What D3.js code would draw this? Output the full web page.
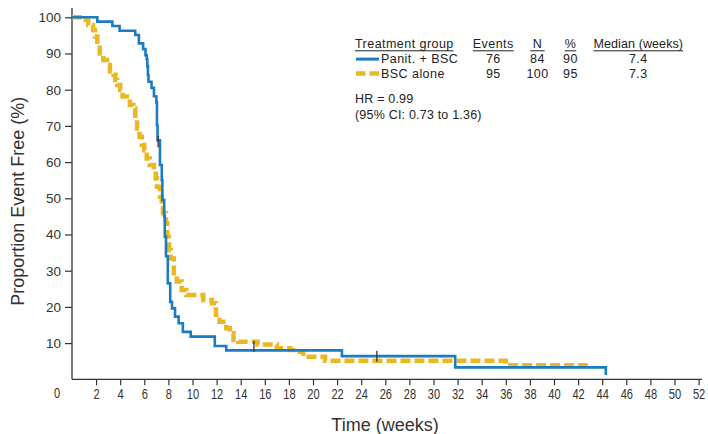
<!DOCTYPE html>
<html>
<head>
<meta charset="utf-8">
<script src="https://cdn.jsdelivr.net/npm/d3@7"></script>
<style>
  html, body { margin: 0; padding: 0; background: #fff; }
  svg { display: block; font-family: "Liberation Sans", Arial, Helvetica, sans-serif; }
</style>
</head>
<body>
<svg id="chart" width="708" height="434"></svg>
<script>
// ---- Data ----
const panitTimes  = [0, 2.1, 3.35, 3.95, 5.25, 5.55, 5.9, 6.1, 6.2, 6.25, 6.3, 6.35, 6.6, 6.8, 7.0, 7.05, 7.1, 7.3, 7.45, 7.5, 7.65, 7.7, 7.8, 7.95, 8.15, 8.3, 8.55, 8.85, 9.2, 9.85, 11.85, 12.8, 22.4, 31.8, 44.3];
const panitValues = [100, 98.8, 97.6, 96.3, 95.1, 92.8, 91.2, 89.5, 88.5, 86.5, 84, 82.2, 80.5, 78.2, 76.5, 70.2, 66, 59.2, 55, 49.5, 45, 39.4, 34, 26.5, 21.4, 19.6, 17.3, 15.5, 13.1, 11.8, 9.2, 8.0, 6.4, 3.3, 1.2];

const bscTimes  = [0, 0.95, 1.35, 1.75, 1.9, 2.1, 2.3, 2.6, 2.9, 3.15, 3.45, 3.6, 3.75, 4.0, 4.2, 4.55, 4.8, 5.1, 5.25, 5.4, 5.6, 5.8, 6.0, 6.2, 6.45, 6.8, 6.95, 7.05, 7.3, 7.45, 7.55, 7.8, 7.9, 8.05, 8.2, 8.45, 8.7, 9.1, 9.5, 10.9, 11.6, 11.95, 12.25, 12.8, 13.1, 13.4, 13.8, 15.4, 17.0, 18.1, 18.6, 19.2, 21.0, 36.0, 42.8];
const bscValues = [100, 99.3, 97.9, 96.5, 94.7, 92.4, 90, 88.2, 86.8, 85, 84.1, 82.7, 81.3, 79.9, 78.1, 76.7, 75.8, 74.9, 71.6, 69.3, 67, 64.7, 63.3, 61, 59.2, 57.8, 55.5, 53.2, 50.4, 48, 45.9, 43.1, 39.4, 35.7, 33.4, 29.3, 27, 24.7, 23.3, 21.9, 21.0, 17.8, 15.9, 14.1, 12.7, 10.9, 10.4, 9.6, 8.6, 8.1, 7.6, 6.2, 5.1, 3.9, 3.9];

const censorTimes  = [7.15, 15.1, 25.3];
const censorValues = [65.6, 9.1, 6.4];

const xTickValues = [2, 4, 6, 8, 10, 12, 14, 16, 18, 20, 22, 24, 26, 28, 30, 32, 34, 36, 38, 40, 42, 44, 46, 48, 50, 52];
const yTickValues = [10, 20, 30, 40, 50, 60, 70, 80, 90, 100];

const legendHeaders = ["Treatment group", "Events", "N", "%", "Median (weeks)"];
const legendGroups  = ["Panit. + BSC", "BSC alone"];
const legendEvents  = [76, 95];
const legendN       = [84, 100];
const legendPct     = [90, 95];
const legendMedian  = ["7.4", "7.3"];
const hrLines       = ["HR = 0.99", "(95% CI: 0.73 to 1.36)"];

// ---- Layout ----
const BLUE = "#1b7cc3";
const YELLOW = "#e9b824";
const AXIS = "#333";

const svg = d3.select("#chart");
const x = d3.scaleLinear().domain([0, 52]).range([72, 698.6]);
const y = d3.scaleLinear().domain([0, 100]).range([379.3, 17.3]);

// axes
const xAxis = d3.axisBottom(x).tickValues(xTickValues).tickSize(6).tickSizeOuter(0).tickPadding(3);
const gx = svg.append("g").attr("transform", `translate(0,${y(0)})`).call(xAxis);
gx.select(".domain").remove();
gx.append("line").attr("x1", x(0)).attr("x2", 702).attr("y1", 0).attr("y2", 0)
  .attr("stroke", AXIS).attr("stroke-width", 1.3);
gx.selectAll(".tick line").attr("stroke", AXIS).attr("stroke-width", 1.2);
gx.selectAll(".tick text").attr("fill", AXIS).attr("font-size", 15)
  .attr("transform", "scale(0.74,1)").attr("dy", "0.72em");
svg.append("text").attr("x", x(0) - 15).attr("y", 398.5).attr("text-anchor", "middle")
  .attr("font-size", 15).attr("fill", AXIS).attr("transform", `translate(${(x(0)-15)*(1-0.74)},0) scale(0.74,1)`).text("0");

const yAxis = d3.axisLeft(y).tickValues(yTickValues).tickSize(7).tickSizeOuter(0).tickPadding(4);
const gy = svg.append("g").attr("transform", `translate(${x(0)},0)`).call(yAxis);
gy.select(".domain").remove();
gy.append("line").attr("x1", 0).attr("x2", 0).attr("y1", y(0)).attr("y2", 8)
  .attr("stroke", AXIS).attr("stroke-width", 1.3);
gy.selectAll(".tick line").attr("stroke", AXIS).attr("stroke-width", 1.2);
gy.selectAll(".tick text").attr("fill", AXIS).attr("font-size", 13.5);

// axis titles
svg.append("text").attr("transform", `translate(24,${(y(0)+y(100))/2 + 3}) rotate(-90)`)
  .attr("text-anchor", "middle").attr("font-size", 18).attr("fill", "#333")
  .text("Proportion Event Free (%)");
svg.append("text").attr("x", 385).attr("y", 431).attr("text-anchor", "middle")
  .attr("font-size", 18).attr("fill", "#333").text("Time (weeks)");

// curves
const line = d3.line().x(d => x(d[0])).y(d => y(d[1])).curve(d3.curveStepAfter);
const bscData = bscTimes.map((t, i) => [t, bscValues[i]]);
const panitData = panitTimes.map((t, i) => [t, panitValues[i]]);

svg.append("path").datum(bscData).attr("d", line).attr("fill", "none")
  .attr("stroke", YELLOW).attr("stroke-width", 4.5).attr("stroke-dasharray", "10,4");
svg.append("path").datum(panitData).attr("d", line).attr("fill", "none")
  .attr("stroke", BLUE).attr("stroke-width", 2.6);

// censor marks
svg.selectAll(".censor").data(censorTimes).enter().append("line")
  .attr("x1", d => x(d)).attr("x2", d => x(d))
  .attr("y1", (d, i) => y(censorValues[i]) - 5.5).attr("y2", (d, i) => y(censorValues[i]) + 5.5)
  .attr("stroke", "#333").attr("stroke-width", 1.3);

// legend table
const lg = svg.append("g").attr("font-size", 12.5).attr("fill", "#222").attr("letter-spacing", "0.45px");
const colX = [355, 493.3, 537.5, 570.5, 638.3];
legendHeaders.forEach((h, i) => {
  const t = lg.append("text").attr("x", colX[i]).attr("y", 48.3)
    .attr("text-anchor", i === 0 ? "start" : "middle").text(h);
  if (i === 4) t.attr("letter-spacing", "0.1px");
  const bb = t.node().getBBox();
  const pad = i === 2 ? 2.5 : 0;
  lg.append("line").attr("x1", bb.x - pad).attr("x2", bb.x + bb.width + pad)
    .attr("y1", 50.8).attr("y2", 50.8).attr("stroke", "#222").attr("stroke-width", 1);
});
const rowY = [63.3, 77.7];
const swatchColors = [BLUE, YELLOW];
legendGroups.forEach((g, i) => {
  const sw = lg.append("line").attr("x1", 356).attr("x2", 379).attr("y1", rowY[i] - 4.2).attr("y2", rowY[i] - 4.2)
    .attr("stroke", swatchColors[i]).attr("stroke-width", i === 0 ? 3 : 4.5);
  if (i === 1) sw.attr("stroke-dasharray", "9.5,4");
  lg.append("text").attr("x", 381).attr("y", rowY[i]).text(g);
  lg.append("text").attr("x", colX[1]).attr("y", rowY[i]).attr("text-anchor", "middle").text(legendEvents[i]);
  lg.append("text").attr("x", colX[2]).attr("y", rowY[i]).attr("text-anchor", "middle").text(legendN[i]);
  lg.append("text").attr("x", colX[3]).attr("y", rowY[i]).attr("text-anchor", "middle").text(legendPct[i]);
  lg.append("text").attr("x", colX[4]).attr("y", rowY[i]).attr("text-anchor", "middle").text(legendMedian[i]);
});
hrLines.forEach((h, i) => {
  lg.append("text").attr("x", 355).attr("y", 103.3 + i * 16).attr("letter-spacing", "0.2px").text(h);
});
</script>
</body>
</html>
